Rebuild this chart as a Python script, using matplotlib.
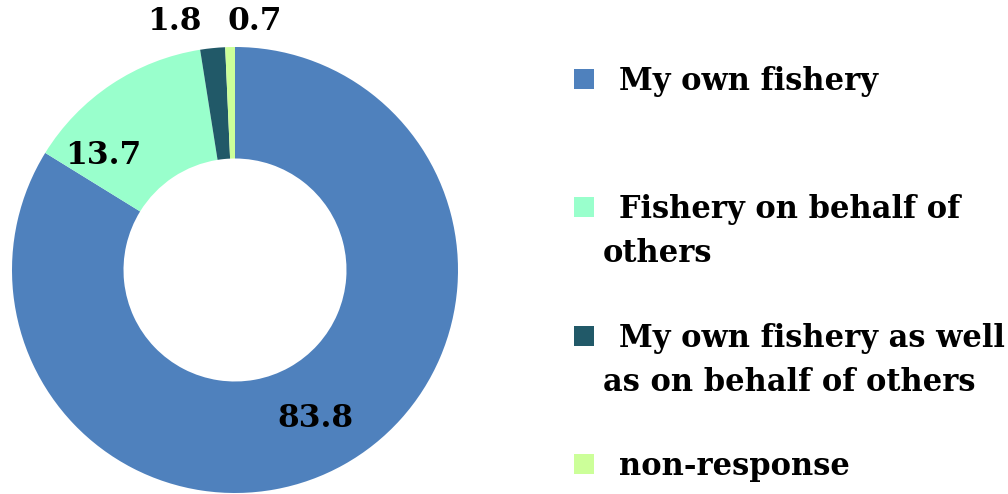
import matplotlib.pyplot as plt
from matplotlib.patches import Rectangle

# data
categories = ["My own fishery", "Fishery on behalf of others",
              "My own fishery as well as on behalf of others", "non-response"]
values = [83.8, 13.7, 1.8, 0.7]
value_labels = ["83.8", "13.7", "1.8", "0.7"]
colors = ["#4F81BD", "#99FFCC", "#215968", "#CCFF99"]

# legend text split as in the original (first line, continuation)
legend_lines = [["My own fishery"],
                ["Fishery on behalf of", "others"],
                ["My own fishery as well", "as on behalf of others"],
                ["non-response"]]

W, H = 1008, 494
fig = plt.figure(figsize=(W / 100, H / 100), dpi=100)
font = dict(family="DejaVu Serif", weight="bold")


def fx(px):
    return px / W


def fy(py):
    return 1 - py / H


# donut
cx, cy, R = 235, 270, 223
ax = fig.add_axes([fx(cx - R), fy(cy + R), 2 * R / W, 2 * R / H])
wedges, _ = ax.pie(values, colors=colors, startangle=90, counterclock=False,
                   radius=1, wedgeprops=dict(width=0.5, linewidth=0))
ax.set_xlim(-1, 1)
ax.set_ylim(-1, 1)
ax.set_aspect("equal")
ax.axis("off")

# data labels (pixel positions as placed in the original)
label_pos = [(315, 418), (103, 156), (174, 22), (255, 22)]
for txt, (px, py) in zip(value_labels, label_pos):
    fig.text(fx(px), fy(py), txt, ha="center", va="center", fontsize=22.5,
             color="black", **font)

# legend
sq_y = [79, 207, 336, 464]
for col, lines, y in zip(colors, legend_lines, sq_y):
    fig.patches.append(Rectangle((fx(574), fy(y + 10)), 20 / W, 20 / H,
                                 transform=fig.transFigure, facecolor=col,
                                 edgecolor="none"))
    fig.text(fx(619), fy(y + 11), lines[0], ha="left", va="baseline",
             fontsize=22, **font)
    for i, extra in enumerate(lines[1:], start=1):
        fig.text(fx(603), fy(y + 11 + 44 * i), extra, ha="left",
                 va="baseline", fontsize=22, **font)

fig.savefig("out.png", dpi=100)
